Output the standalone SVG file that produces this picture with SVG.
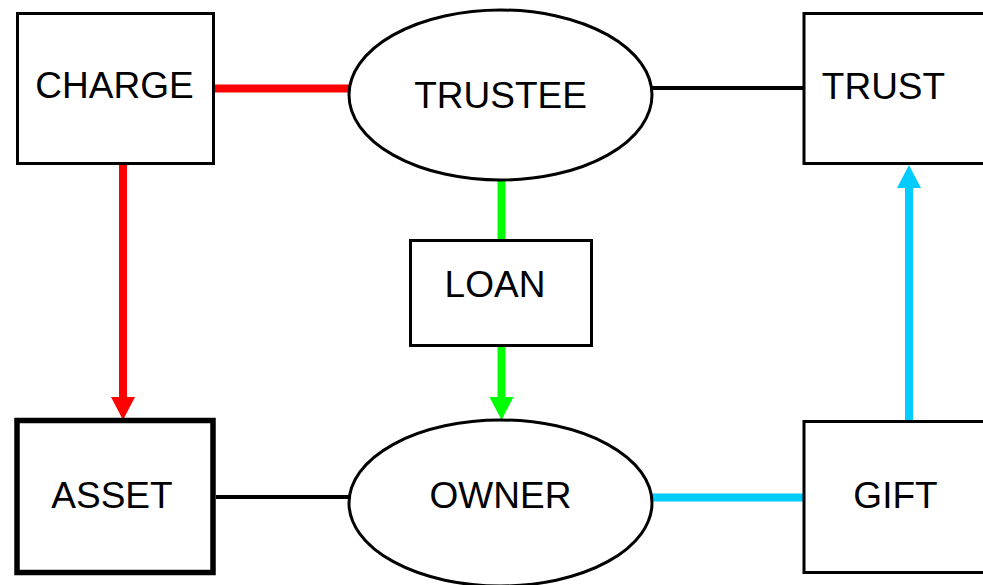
<svg xmlns="http://www.w3.org/2000/svg" width="983" height="585" viewBox="0 0 983 585">
<style>
.box{fill:#fff;stroke:#000;stroke-width:3}
.ell{fill:#fff;stroke:#000;stroke-width:3}
.lbl{font-family:"Liberation Sans",Arial,sans-serif;font-size:37px;fill:#000;text-anchor:middle}
.k{stroke:#000;stroke-width:4;fill:none}
.r{stroke:#FF0000;stroke-width:8;fill:none}
.g{stroke:#00FF00;stroke-width:8;fill:none}
.b{stroke:#00CCFF;stroke-width:8;fill:none}
</style>
<defs>
<marker id="ar" markerUnits="userSpaceOnUse" viewBox="0 0 23 24" markerWidth="23" markerHeight="24" refX="0" refY="12" orient="auto"><path d="M0,0 L23,12 L0,24 z" fill="#FF0000"/></marker>
<marker id="ag" markerUnits="userSpaceOnUse" viewBox="0 0 23 24" markerWidth="23" markerHeight="24" refX="0" refY="12" orient="auto"><path d="M0,0 L23,12 L0,24 z" fill="#00FF00"/></marker>
<marker id="ab" markerUnits="userSpaceOnUse" viewBox="0 0 23 24" markerWidth="23" markerHeight="24" refX="0" refY="12" orient="auto"><path d="M0,0 L23,12 L0,24 z" fill="#00CCFF"/></marker>
</defs>
<rect width="983" height="585" fill="#fff"/>
<g id="connectors">
<line class="r" x1="214" y1="88.5" x2="350" y2="88.5"/>
<line class="k" x1="652" y1="88" x2="804" y2="88"/>
<line class="r" x1="123" y1="165" x2="123" y2="397" marker-end="url(#ar)"/>
<line class="g" x1="501.5" y1="180" x2="501.5" y2="241"/>
<line class="g" x1="501.5" y1="346" x2="501.5" y2="397" marker-end="url(#ag)"/>
<line class="b" x1="909" y1="421" x2="909" y2="188" marker-end="url(#ab)"/>
<line class="k" x1="216" y1="497" x2="350" y2="497"/>
<line class="b" x1="651" y1="497.5" x2="804" y2="497.5"/>
</g>
<g id="charge"><rect class="box" x="17.5" y="13.5" width="196" height="150"/><text class="lbl" x="114.5" y="98">CHARGE</text></g>
<g id="trustee"><ellipse class="ell" cx="500.5" cy="95" rx="151.5" ry="85"/><text class="lbl" x="500.5" y="108">TRUSTEE</text></g>
<g id="trust"><rect class="box" x="804" y="13.5" width="200" height="150"/><text class="lbl" x="883.5" y="99">TRUST</text></g>
<g id="loan"><rect class="box" x="410.5" y="240.5" width="181" height="105"/><text class="lbl" x="495" y="297">LOAN</text></g>
<g id="asset"><rect x="17" y="420.5" width="196" height="152" fill="#fff" stroke="#000" stroke-width="5.5"/><text class="lbl" x="112" y="508">ASSET</text></g>
<g id="owner"><ellipse class="ell" cx="500.5" cy="503" rx="151.5" ry="83"/><text class="lbl" x="500.5" y="508">OWNER</text></g>
<g id="gift"><rect class="box" x="804" y="421.5" width="200" height="151"/><text class="lbl" x="895.5" y="508">GIFT</text></g>
</svg>
